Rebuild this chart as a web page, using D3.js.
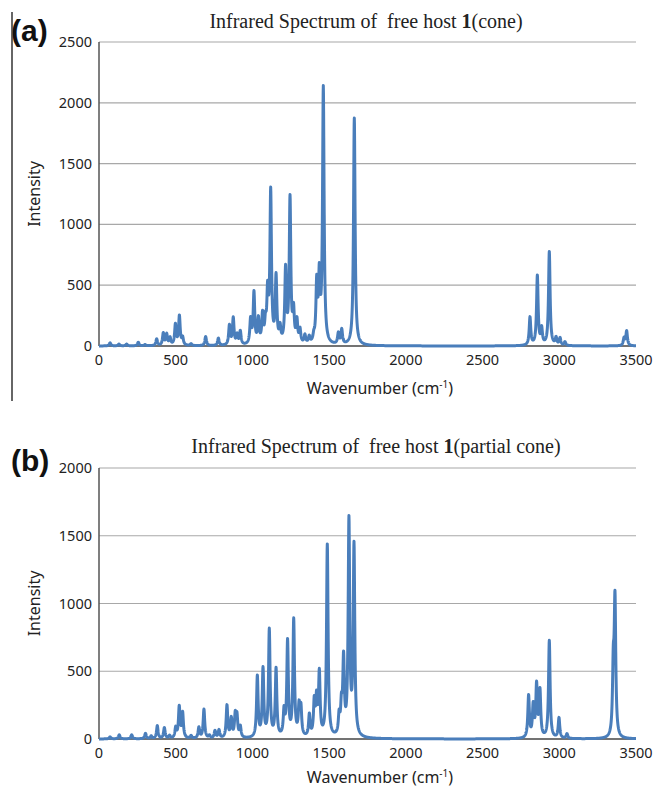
<!DOCTYPE html>
<html>
<head>
<meta charset="utf-8">
<script src="https://cdnjs.cloudflare.com/ajax/libs/d3/7.8.5/d3.min.js"></script>
<style>
  body { margin: 0; background: #fff; }
  .tick-label { font-family: "Noto Sans", "Open Sans", sans-serif; font-size: 14.5px; fill: #222; }
  .axis-title { font-family: "Noto Sans", "Open Sans", sans-serif; font-size: 16px; fill: #222; }
  .chart-title { font-family: "Liberation Serif", "Times New Roman", serif; font-size: 20px; fill: #222; white-space: pre; }
  .panel-label { font-family: "Liberation Sans", Arial, sans-serif; font-size: 30px; font-weight: bold; fill: #111; }
</style>
</head>
<body>
<div class="ir-chart"></div>
<script>
(function() {
// peak lists: [wavenumber, intensity]
const peaksCone = [
  [72, 25], [130, 15], [180, 15], [256, 30], [300, 10], [376, 55], [419, 100], [441, 90],
  [463, 60], [498, 170], [524, 240], [545, 60], [600, 15], [695, 75], [778, 60],
  [850, 160], [875, 220], [900, 80], [921, 110], [988, 200], [1010, 420], [1039, 200],
  [1066, 230], [1085, 150], [1099, 390], [1119, 1240], [1154, 540], [1180, 120],
  [1216, 600], [1245, 1190], [1268, 250], [1290, 180], [1310, 110], [1342, 70],
  [1370, 55], [1400, 50], [1419, 480], [1436, 520], [1462, 2100], [1560, 90],
  [1582, 120], [1664, 1870], [2809, 230], [2857, 570], [2885, 130], [2935, 770],
  [2979, 60], [3005, 60], [3037, 30], [3422, 60], [3439, 120]
]
const peaksPartial = [
  [72, 15], [132, 30], [213, 30], [303, 40], [340, 20], [380, 95], [426, 80], [460, 20],
  [500, 75], [523, 230], [545, 185], [600, 20], [651, 80], [684, 215], [720, 20],
  [756, 55], [782, 60], [834, 240], [862, 140], [888, 160], [899, 150], [921, 80],
  [1032, 450], [1069, 500], [1110, 790], [1154, 500], [1206, 180], [1229, 700],
  [1269, 860], [1304, 210], [1316, 200], [1371, 160], [1403, 250], [1418, 260],
  [1436, 460], [1488, 1420], [1565, 140], [1580, 200], [1594, 550], [1629, 1580],
  [1662, 1400], [2800, 310], [2830, 230], [2852, 380], [2874, 340], [2935, 720],
  [2998, 150], [3050, 35], [3352, 470], [3363, 990]
]

const waveTicks = [0, 500, 1000, 1500, 2000, 2500, 3000, 3500]
const intTicksCone = [0, 500, 1000, 1500, 2000, 2500]
const intTicksPartial = [0, 500, 1000, 1500, 2000]

const halfWidth = 6 // lorentzian HWHM, cm-1

var svg = d3.select(".ir-chart").append("svg")
    .attr("width", 654)
    .attr("height", 788)

// broaden a stick spectrum into a continuous curve
function broaden(peaks) {
  var pts = []
  for (var w = 0; w <= 3500; w += 1) {
    var s = 0
    peaks.forEach(function(p) {
      var d = (w - p[0]) / halfWidth
      s += p[1] / (1 + d * d)
    })
    pts.push([w, s])
  }
  return pts
}

function panel(opts) {
  var x = d3.scaleLinear().domain([0, 3500]).range([99, 636])
  var y = d3.scaleLinear().domain([0, opts.ticks[opts.ticks.length - 1]]).range([opts.bottom, opts.top])
  var g = svg.append("g")

  // gridlines
  g.selectAll(".grid")
      .data(opts.ticks.filter((d) => d > 0))
      .enter().append("line")
      .attr("x1", x(0)).attr("x2", x(3500))
      .attr("y1", (d) => y(d)).attr("y2", (d) => y(d))
      .attr("stroke", "#a8a8a8")
      .attr("stroke-width", 1.2)

  // axes
  g.append("line")
      .attr("x1", x(0)).attr("x2", x(0))
      .attr("y1", y.range()[1]).attr("y2", y(0))
      .attr("stroke", "#555").attr("stroke-width", 1.5)
  g.append("line")
      .attr("x1", x(0)).attr("x2", x(3500))
      .attr("y1", y(0)).attr("y2", y(0))
      .attr("stroke", "#444").attr("stroke-width", 1.5)

  g.selectAll(".ylab")
      .data(opts.ticks)
      .enter().append("text")
      .attr("class", "tick-label")
      .attr("x", 92)
      .attr("y", (d) => y(d))
      .attr("dy", "0.35em")
      .attr("text-anchor", "end")
      .text((d) => d)

  g.selectAll(".xlab")
      .data(waveTicks)
      .enter().append("text")
      .attr("class", "tick-label")
      .attr("x", (d) => x(d))
      .attr("y", y(0) + 19)
      .attr("text-anchor", "middle")
      .text((d) => d)

  var line = d3.line()
      .x((d) => x(d[0]))
      .y((d) => y(d[1]))

  g.append("path")
      .datum(broaden(opts.peaks))
      .attr("fill", "none")
      .attr("stroke", "#4a7ebb")
      .attr("stroke-width", 3)
      .attr("stroke-linejoin", "round")
      .attr("d", line)

  // titles
  var xt = g.append("text")
      .attr("class", "axis-title")
      .attr("x", 380)
      .attr("y", y(0) + opts.xTitleGap)
      .attr("text-anchor", "middle")
  xt.append("tspan").text("Wavenumber (cm")
  xt.append("tspan").attr("dy", -6).attr("font-size", "10px").text("-1")
  xt.append("tspan").attr("dy", 6).text(")")

  g.append("text")
      .attr("class", "axis-title")
      .attr("transform", "translate(40," + ((y.range()[0] + y.range()[1]) / 2) + ") rotate(-90)")
      .attr("text-anchor", "middle")
      .text("Intensity")

  var t = g.append("text")
      .attr("class", "chart-title")
      .attr("x", opts.titleX)
      .attr("y", opts.titleY)
      .attr("text-anchor", "middle")
  t.append("tspan").text("Infrared Spectrum of  free host ")
  t.append("tspan").attr("font-weight", "bold").text("1")
  t.append("tspan").text(opts.form)

  g.append("text")
      .attr("class", "panel-label")
      .attr("x", 11)
      .attr("y", opts.labelY)
      .text(opts.label)
}

panel({ peaks: peaksCone, ticks: intTicksCone, top: 42, bottom: 346, xTitleGap: 48,
        titleX: 366, titleY: 28, form: "(cone)", label: "(a)", labelY: 41 })
panel({ peaks: peaksPartial, ticks: intTicksPartial, top: 468, bottom: 739, xTitleGap: 44,
        titleX: 376, titleY: 453, form: "(partial cone)", label: "(b)", labelY: 471 })

// frame line on the left of panel (a)
svg.append("line")
    .attr("x1", 12).attr("x2", 12)
    .attr("y1", 12).attr("y2", 401)
    .attr("stroke", "#333").attr("stroke-width", 1.5)
}())
</script>
</body>
</html>
